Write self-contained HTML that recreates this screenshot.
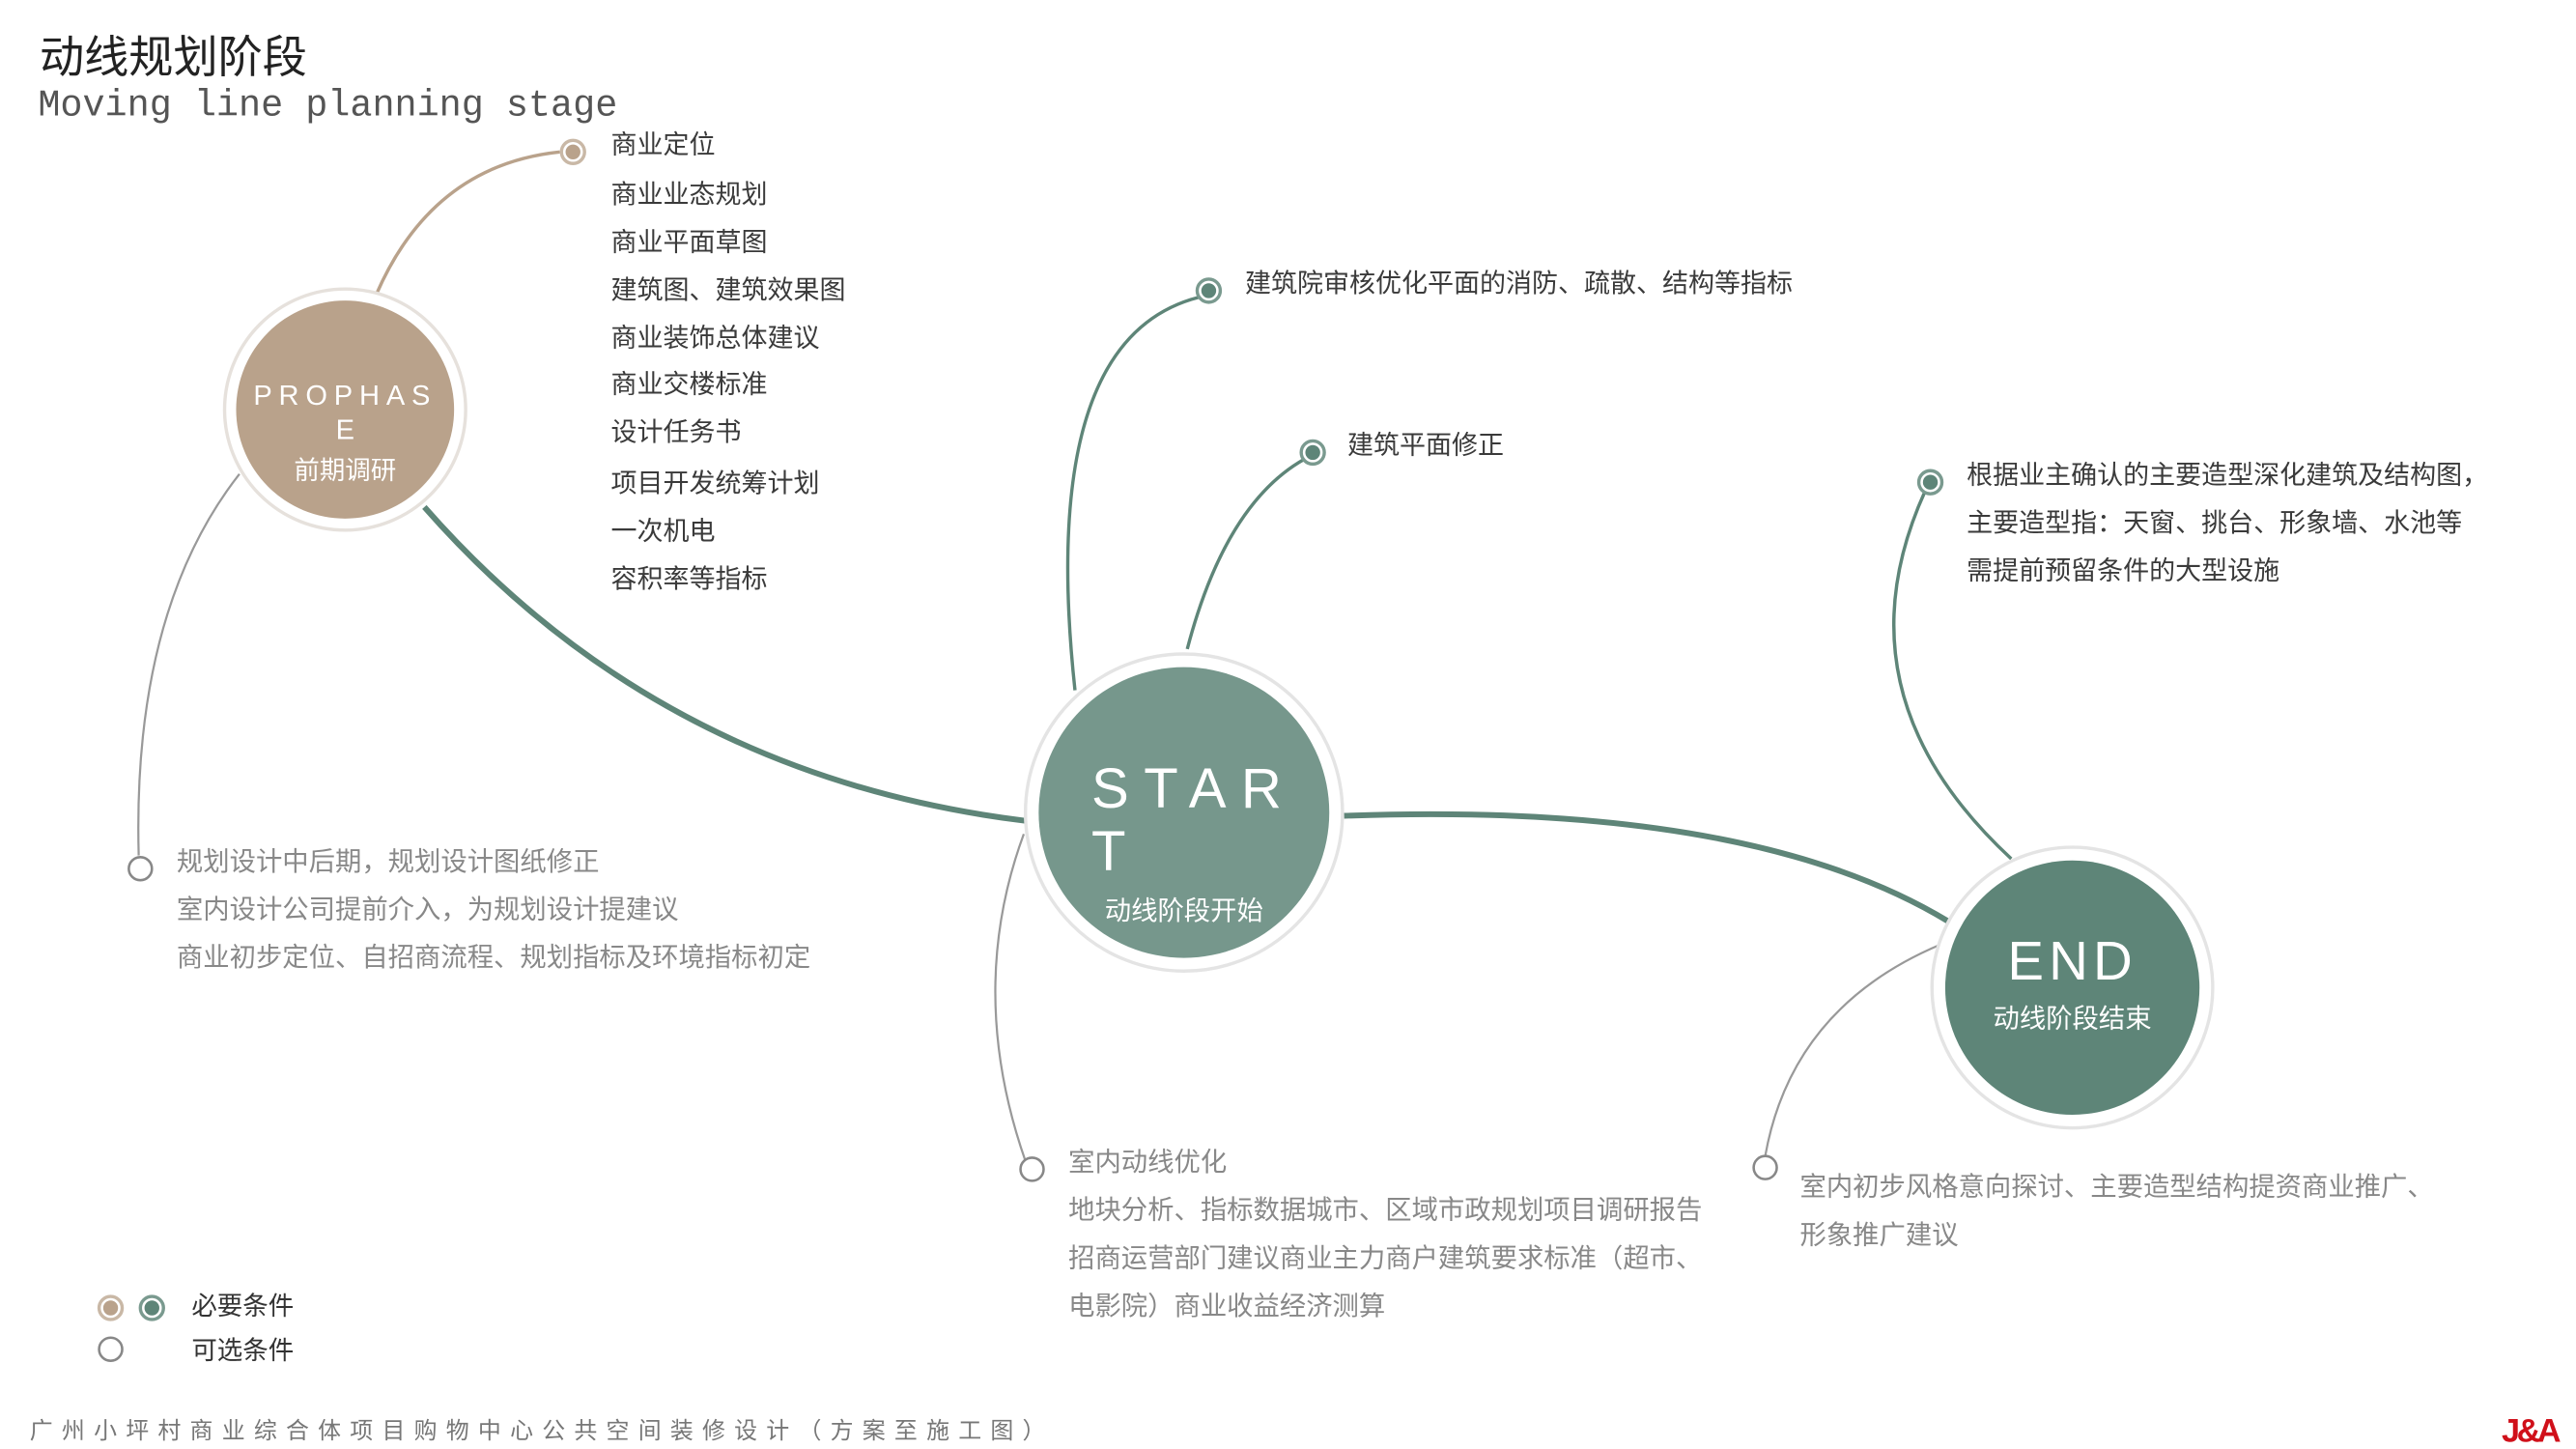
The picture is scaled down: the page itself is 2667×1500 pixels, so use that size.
<!DOCTYPE html>
<html><head><meta charset="utf-8"><style>
html,body{margin:0;padding:0;background:#fff;}
svg{display:block;}
text{font-family:"Liberation Sans","Noto Sans CJK SC",sans-serif;}
.t{font-size:15.8px;fill:#3a3a3a;}
.g{font-size:16px;fill:#888;}
</style></head><body>
<svg width="2667" height="1500" viewBox="0 0 1560 877.4" preserveAspectRatio="none" xmlns="http://www.w3.org/2000/svg">
<rect width="1560" height="877.4" fill="#fff"/>
<text x="24" y="44" font-size="27" fill="#222">动线规划阶段</text>
<text x="23" y="70" font-size="22.5" fill="#555" style="font-family:'Liberation Mono',monospace">Moving line planning stage</text>

<path d="M228,178 Q262,100 339,92" stroke="#b9a28b" stroke-width="2" fill="none"/>
<path d="M145,287 Q80,370 84,518" stroke="#999" stroke-width="1.3" fill="none"/>
<path d="M257,307 Q400,470 621,497" stroke="#5e8578" stroke-width="3.5" fill="none"/>
<path d="M651,418 Q628,205 726,180" stroke="#5e8578" stroke-width="2" fill="none"/>
<path d="M719,393 Q742,305 790,278" stroke="#5e8578" stroke-width="2" fill="none"/>
<path d="M620,505 Q585,600 621,703" stroke="#999" stroke-width="1.3" fill="none"/>
<path d="M814,494 Q1060,485 1180,558" stroke="#5e8578" stroke-width="3.5" fill="none"/>
<path d="M1218,520 Q1110,420 1166,297" stroke="#5e8578" stroke-width="2" fill="none"/>
<path d="M1175,572 Q1085,610 1069,700" stroke="#999" stroke-width="1.3" fill="none"/>

<circle cx="347" cy="92" r="7" fill="#fff" stroke="#c9b8a6" stroke-width="2"/><circle cx="347" cy="92" r="4.5" fill="#b9a28b"/>
<circle cx="732" cy="176" r="7" fill="#fff" stroke="#7a9a8f" stroke-width="2"/><circle cx="732" cy="176" r="4.5" fill="#5e8578"/>
<circle cx="795" cy="274" r="7" fill="#fff" stroke="#7a9a8f" stroke-width="2"/><circle cx="795" cy="274" r="4.5" fill="#5e8578"/>
<circle cx="1169" cy="292" r="7" fill="#fff" stroke="#7a9a8f" stroke-width="2"/><circle cx="1169" cy="292" r="4.5" fill="#5e8578"/>
<circle cx="85" cy="526" r="7" fill="#fff" stroke="#888" stroke-width="1.5"/>
<circle cx="625" cy="708" r="7" fill="#fff" stroke="#888" stroke-width="1.5"/>
<circle cx="1069" cy="707" r="7" fill="#fff" stroke="#888" stroke-width="1.5"/>

<circle cx="209" cy="248" r="73" fill="#fff" stroke="#e6e1dc" stroke-width="2"/>
<circle cx="209" cy="248" r="66" fill="#b9a28b"/>
<text x="209" y="245" text-anchor="middle" font-size="17" fill="#fff" letter-spacing="4">PROPHAS</text>
<text x="209" y="266" text-anchor="middle" font-size="17" fill="#fff">E</text>
<text x="209" y="290" text-anchor="middle" font-size="15.5" fill="#fff">前期调研</text>

<circle cx="717" cy="492" r="96" fill="#fff" stroke="#e4e4e4" stroke-width="2"/>
<circle cx="717" cy="492" r="88" fill="#76978c"/>
<text x="661" y="489" font-size="34" fill="#fff" letter-spacing="9">STAR</text>
<text x="661" y="527" font-size="34" fill="#fff">T</text>
<text x="717" y="557" text-anchor="middle" font-size="16" fill="#fff">动线阶段开始</text>

<circle cx="1255" cy="598" r="85" fill="#fff" stroke="#e4e4e4" stroke-width="2"/>
<circle cx="1255" cy="598" r="77" fill="#5e8578"/>
<text x="1255" y="593" text-anchor="middle" font-size="33" fill="#fff" letter-spacing="3">END</text>
<text x="1255" y="622" text-anchor="middle" font-size="16" fill="#fff">动线阶段结束</text>

<g class="t">
<text x="370" y="93">商业定位</text>
<text x="370" y="123">商业业态规划</text>
<text x="370" y="152">商业平面草图</text>
<text x="370" y="181">建筑图、建筑效果图</text>
<text x="370" y="210">商业装饰总体建议</text>
<text x="370" y="238">商业交楼标准</text>
<text x="370" y="267">设计任务书</text>
<text x="370" y="298">项目开发统筹计划</text>
<text x="370" y="327">一次机电</text>
<text x="370" y="356">容积率等指标</text>
<text x="754" y="177">建筑院审核优化平面的消防、疏散、结构等指标</text>
<text x="816" y="275">建筑平面修正</text>
<text x="1191" y="293">根据业主确认的主要造型深化建筑及结构图，</text>
<text x="1191" y="322">主要造型指：天窗、挑台、形象墙、水池等</text>
<text x="1191" y="351">需提前预留条件的大型设施</text>
</g>
<g class="g">
<text x="107" y="527">规划设计中后期，规划设计图纸修正</text>
<text x="107" y="556">室内设计公司提前介入，为规划设计提建议</text>
<text x="107" y="585">商业初步定位、自招商流程、规划指标及环境指标初定</text>
<text x="647" y="709">室内动线优化</text>
<text x="647" y="738">地块分析、指标数据城市、区域市政规划项目调研报告</text>
<text x="647" y="767">招商运营部门建议商业主力商户建筑要求标准（超市、</text>
<text x="647" y="796">电影院）商业收益经济测算</text>
<text x="1090" y="724">室内初步风格意向探讨、主要造型结构提资商业推广、</text>
<text x="1090" y="753">形象推广建议</text>
</g>

<circle cx="67" cy="792" r="7" fill="#fff" stroke="#c9b8a6" stroke-width="2"/><circle cx="67" cy="792" r="4.5" fill="#b9a28b"/>
<circle cx="92" cy="792" r="7" fill="#fff" stroke="#7a9a8f" stroke-width="2"/><circle cx="92" cy="792" r="4.5" fill="#5e8578"/>
<circle cx="67" cy="817" r="7" fill="#fff" stroke="#888" stroke-width="1.5"/>
<text x="116" y="796" font-size="15.5" fill="#333">必要条件</text>
<text x="116" y="823" font-size="15.5" fill="#333">可选条件</text>

<text x="18" y="871" font-size="14" fill="#777" letter-spacing="5.4">广州小坪村商业综合体项目购物中心公共空间装修设计（方案至施工图）</text>
<text x="1515" y="873" font-size="20" font-weight="bold" fill="#d0101a" style="font-family:'Liberation Sans',sans-serif" letter-spacing="-2">J&amp;A</text>
</svg>
</body></html>
